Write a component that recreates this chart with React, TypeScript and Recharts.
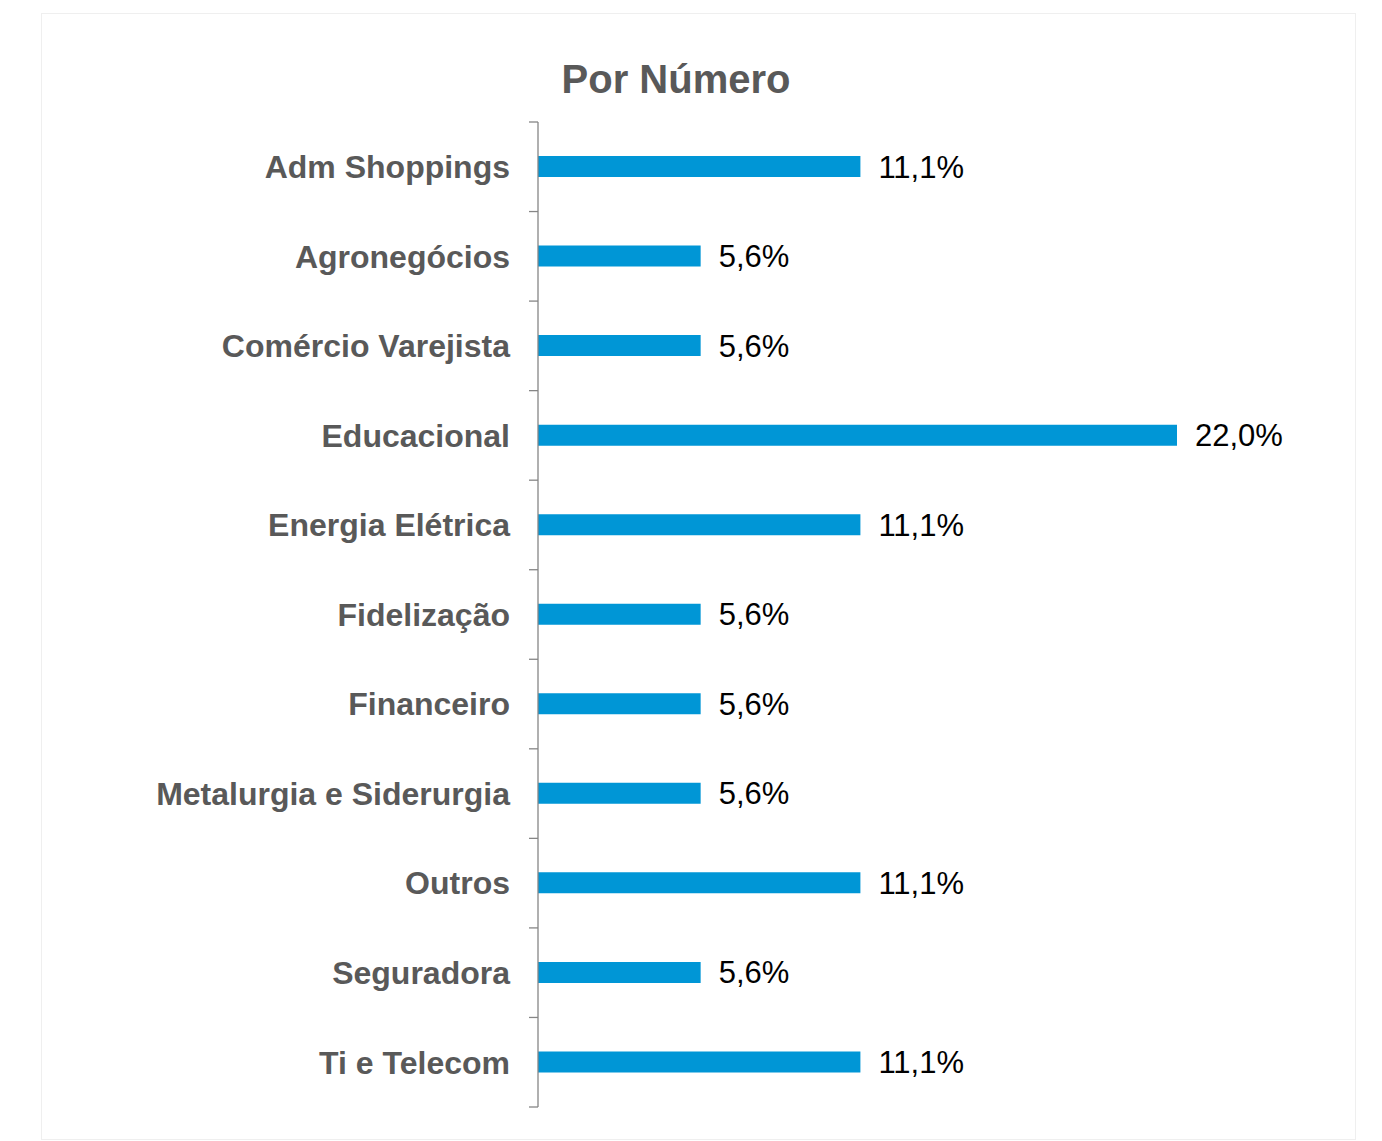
import React from 'react';
import { BarChart, Bar, XAxis, YAxis, LabelList } from 'recharts';

const categories = [
  'Adm Shoppings',
  'Agronegócios',
  'Comércio Varejista',
  'Educacional',
  'Energia Elétrica',
  'Fidelização',
  'Financeiro',
  'Metalurgia e Siderurgia',
  'Outros',
  'Seguradora',
  'Ti e Telecom',
];

const shares = [11.1, 5.6, 5.6, 22.0, 11.1, 5.6, 5.6, 5.6, 11.1, 5.6, 11.1];

const rows = categories.map((name, i) => ({ name, value: shares[i] }));

const FONT = '"Liberation Sans", Arial, Helvetica, sans-serif';
const BLUE = '#0096d6';
const GREY_TEXT = '#595959';
const AXIS = '#868686';
const TICK_SIZE = 9;
const TICK_MARGIN = 19;

const fmtPct = (v: any) => `${Number(v).toFixed(1).replace('.', ',')}%`;

// category label + tick marks on the band edges (Excel style)
const CategoryTick: React.FC<any> = ({ x, y, payload, index, visibleTicksCount }) => {
  const half = payload && payload.offset ? payload.offset : 0;
  const x1 = x + TICK_MARGIN;
  const x2 = x1 + TICK_SIZE;
  const last = index === visibleTicksCount - 1;
  return (
    <g>
      <line x1={x1} x2={x2} y1={y - half} y2={y - half} stroke={AXIS} strokeWidth={1.3} />
      {last && <line x1={x1} x2={x2} y1={y + half} y2={y + half} stroke={AXIS} strokeWidth={1.3} />}
      <text
        x={x}
        y={y}
        dy="0.355em"
        textAnchor="end"
        fill={GREY_TEXT}
        fontSize={32}
        fontWeight="bold"
        fontFamily={FONT}
      >
        {payload.value}
      </text>
    </g>
  );
};

export default function App() {
  return (
    <div style={{ position: 'absolute', left: 0, top: 0, width: 1382, height: 1141, fontFamily: FONT }}>
      <div
        style={{
          position: 'absolute',
          left: 41,
          top: 13,
          width: 1313,
          height: 1125,
          border: '1px solid #efefef',
        }}
      />
      <div
        style={{
          position: 'absolute',
          left: 0,
          top: 59,
          width: 1352,
          textAlign: 'center',
          fontSize: 40,
          lineHeight: '40px',
          fontWeight: 'bold',
          color: GREY_TEXT,
        }}
      >
        Por Número
      </div>
      <div style={{ position: 'absolute', left: 42, top: 14 }}>
        <BarChart
          width={1313}
          height={1125}
          data={rows}
          layout="vertical"
          margin={{ top: 108, right: 178, bottom: 32, left: 0 }}
        >
          <XAxis type="number" domain={[0, 22]} hide />
          <YAxis
            type="category"
            dataKey="name"
            width={496}
            axisLine={{ stroke: AXIS, strokeWidth: 1.3 }}
            tickLine={false}
            tickSize={TICK_SIZE}
            tickMargin={TICK_MARGIN}
            interval={0}
            tick={<CategoryTick />}
          />
          <Bar dataKey="value" fill={BLUE} barSize={21} isAnimationActive={false}>
            <LabelList
              dataKey="value"
              position="right"
              offset={18}
              formatter={fmtPct}
              style={{ fill: '#000000', fontSize: 31, fontFamily: FONT }}
            />
          </Bar>
        </BarChart>
      </div>
    </div>
  );
}
